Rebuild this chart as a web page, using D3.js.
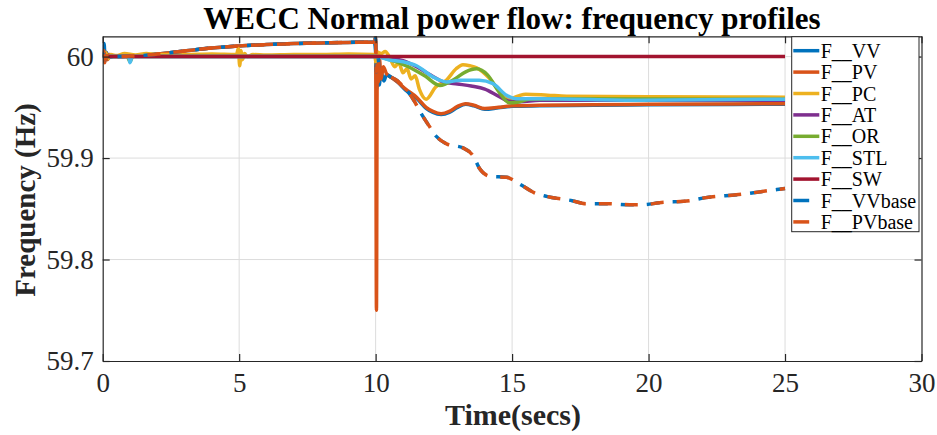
<!DOCTYPE html>
<html>
<head>
<meta charset="utf-8">
<script src="https://cdn.jsdelivr.net/npm/d3@7"></script>
<style>
  body { margin: 0; background: #fff; }
  text { font-family: "Liberation Serif", "Times New Roman", serif; }
</style>
</head>
<body>
<script>
// ---- data: [time (s), frequency (Hz)] ----
let xTicks = [0, 5, 10, 15, 20, 25, 30];
let yTicks = [59.7, 59.8, 59.9, 60];

let seriesNames = ["F__VV", "F__PV", "F__PC", "F__AT", "F__OR", "F__STL", "F__SW", "F__VVbase", "F__PVbase"];
let seriesColors = ["#0072BD", "#D95319", "#EDB120", "#7E2F8E", "#77AC30", "#4DBEEE", "#A2142F", "#0072BD", "#D95319"];

let fVV = [[0,60.0],[0.05,60.013],[0.09,59.998],[0.14,60.004],[0.2,59.999],[0.4,60.0],[1,60.0005],[1.5,60.0012],[2,60.0025],[3,60.0055],[4,60.0085],[5,60.0105],[6,60.0118],[7,60.0128],[8,60.0135],[9,60.014],[9.95,60.0143],[10.01,60.0],[10.04,59.968],[10.08,59.99],[10.13,59.972],[10.2,59.985],[10.3,59.976],[10.4,59.982],[10.6,59.979],[10.8,59.975],[11.1,59.967],[11.5,59.959],[11.85,59.949],[12.1,59.945],[12.4,59.943],[12.7,59.945],[13.0,59.950],[13.3,59.953],[13.6,59.9515],[14.0,59.948],[14.5,59.9495],[15.0,59.951],[16,59.9515],[18,59.952],[20,59.9525],[25,59.953]];
let fPV = [[0,60.0],[0.04,60.006],[0.08,59.994],[0.12,60.004],[0.18,59.997],[0.25,60.002],[0.4,60.0],[1,60.0005],[1.5,60.0012],[2,60.0025],[3,60.0055],[4,60.0085],[5,60.0105],[6,60.0118],[7,60.0128],[8,60.0135],[9,60.014],[9.95,60.0143],[10.0,60.02],[10.03,59.75],[10.06,60.005],[10.1,59.975],[10.14,59.998],[10.2,59.978],[10.28,59.99],[10.4,59.983],[10.6,59.979],[10.8,59.975],[11.1,59.968],[11.5,59.960],[11.85,59.950],[12.1,59.946],[12.4,59.9437],[12.7,59.946],[13.0,59.951],[13.3,59.9536],[13.6,59.952],[14.0,59.9488],[14.5,59.950],[15.0,59.9515],[16,59.952],[18,59.9525],[20,59.953],[25,59.9535]];
let fPC = [[0,60.0],[0.1,60.004],[0.2,59.998],[0.3,60.002],[0.5,60.001],[0.8,60.003],[1.2,60.0015],[1.6,60.003],[2,60.002],[3,60.002],[4,60.0025],[4.9,60.002],[4.97,60.008],[5.02,59.991],[5.07,60.006],[5.12,59.997],[5.2,60.003],[5.3,60.0],[5.5,60.002],[6,60.0015],[7,60.002],[8,60.002],[9,60.0025],[9.95,60.002],[10.05,59.99],[10.1,60.004],[10.2,60.003],[10.35,60.005],[10.5,60.0],[10.7,59.99],[10.85,59.994],[11.0,59.984],[11.15,59.988],[11.3,59.978],[11.45,59.981],[11.6,59.968],[11.85,59.958],[12.2,59.970],[12.6,59.977],[12.95,59.988],[13.2,59.992],[13.45,59.991],[13.7,59.989],[14.15,59.979],[14.55,59.966],[14.9,59.9585],[15.2,59.961],[15.5,59.963],[16.3,59.962],[17,59.961],[20,59.9605],[25,59.960]];
let fAT = [[0,60.0],[10,60.0],[10.5,59.999],[11,59.996],[11.5,59.99],[12,59.982],[12.5,59.975],[13,59.973],[13.5,59.971],[14,59.968],[14.5,59.961],[14.9,59.956],[15.3,59.9555],[16,59.957],[18,59.957],[25,59.957]];
let fOR = [[0,60.0],[0.9,60.0],[1.0,59.995],[1.1,60.0],[10,60.0],[10.5,59.997],[11.2,59.99],[11.8,59.981],[12.35,59.9716],[12.9,59.978],[13.3,59.985],[13.7,59.988],[14.1,59.982],[14.5,59.966],[14.9,59.9545],[15.2,59.955],[15.6,59.958],[16.5,59.9585],[25,59.958]];
let fSTL = [[0,60.0],[0.95,60.0],[1.0,59.994],[1.08,60.0],[10,60.0],[10.5,59.9967],[11.0,59.995],[11.5,59.991],[12.1,59.980],[12.6,59.975],[13.1,59.9766],[13.8,59.9766],[14.3,59.9733],[14.8,59.9618],[15.15,59.9585],[16,59.9585],[19.7,59.957],[25,59.958]];
let fSW = [[0,60.0],[25,60.0]];
let fBase = [[0,60.0],[0.05,60.004],[0.1,59.997],[0.2,60.001],[0.4,60.0],[1,60.0005],[1.5,60.0012],[2,60.0025],[3,60.0055],[4,60.0085],[5,60.0105],[6,60.0118],[7,60.0128],[8,60.0135],[9,60.014],[9.95,60.0143],[10.0,60.018],[10.03,59.985],[10.08,60.0],[10.15,59.985],[10.25,59.988],[10.4,59.983],[10.8,59.976],[11.1,59.968],[11.4,59.957],[11.6,59.947],[12.0,59.930],[12.2,59.922],[12.6,59.914],[13.2,59.910],[13.6,59.901],[13.8,59.890],[14.2,59.882],[14.8,59.881],[15.3,59.874],[15.8,59.866],[16.3,59.862],[17.2,59.858],[17.7,59.855],[18.5,59.855],[19.3,59.854],[19.8,59.854],[20.4,59.856],[21.5,59.858],[22.1,59.861],[23.3,59.864],[24.7,59.869],[25,59.870]];
let fVVbase = fBase;
let fPVbase = fBase;

let allSeries = [fVV, fPV, fPC, fAT, fOR, fSTL, fSW, fVVbase, fPVbase];

// ---- layout ----
let w = 937, h = 435;
let pLeft = 102.7, pRight = 921.5, pTop = 36.3, pBottom = 361;
let axisColor = "#262626";

let xScale = d3.scaleLinear().domain([0, 30]).range([pLeft, pRight]);
let yScale = d3.scaleLinear().domain([59.7, 60.02]).range([pBottom, pTop]);

let svg = d3.select("body").append("svg")
  .attr("width", w)
  .attr("height", h);

// grid
svg.append("g").selectAll("line")
  .data(xTicks.slice(1, -1))
  .enter().append("line")
  .attr("x1", (d) => xScale(d)).attr("x2", (d) => xScale(d))
  .attr("y1", pTop).attr("y2", pBottom)
  .attr("stroke", "#dcdcdc").attr("stroke-width", 1);
svg.append("g").selectAll("line")
  .data(yTicks.slice(1))
  .enter().append("line")
  .attr("x1", pLeft).attr("x2", pRight)
  .attr("y1", (d) => yScale(d)).attr("y2", (d) => yScale(d))
  .attr("stroke", "#dcdcdc").attr("stroke-width", 1);

// lines
svg.append("clipPath").attr("id", "clip")
  .append("rect")
  .attr("x", pLeft).attr("y", pTop)
  .attr("width", pRight - pLeft).attr("height", pBottom - pTop);

let line = d3.line()
  .x((d) => xScale(d[0]))
  .y((d) => yScale(d[1]))
  .curve(d3.curveMonotoneX);

let plot = svg.append("g").attr("clip-path", "url(#clip)");
allSeries.forEach((s, i) => {
  let p = plot.append("path")
    .datum(s)
    .attr("d", line)
    .attr("fill", "none")
    .attr("stroke", seriesColors[i])
    .attr("stroke-width", 3.5)
    .attr("stroke-linejoin", "round");
  if (i >= 7) {
    p.attr("stroke-dasharray", "13,13")
      .attr("stroke-dashoffset", i == 8 ? -4 : 0);
  }
});

// axes
let xFmt = d3.format("d");
let yFmt = (d) => d == 60 ? "60" : d3.format(".1f")(d);

let gx = svg.append("g")
  .attr("transform", "translate(0," + pBottom + ")")
  .call(d3.axisBottom(xScale).tickValues(xTicks).tickFormat(xFmt).tickSize(-7).tickSizeOuter(0).tickPadding(12));
let gy = svg.append("g")
  .attr("transform", "translate(" + pLeft + ",0)")
  .call(d3.axisLeft(yScale).tickValues(yTicks).tickFormat(yFmt).tickSize(-7).tickSizeOuter(0).tickPadding(9));
let gt = svg.append("g")
  .attr("transform", "translate(0," + pTop + ")")
  .call(d3.axisTop(xScale).tickValues(xTicks).tickFormat("").tickSize(-7).tickSizeOuter(0));
let gr = svg.append("g")
  .attr("transform", "translate(" + pRight + ",0)")
  .call(d3.axisRight(yScale).tickValues(yTicks).tickFormat("").tickSize(-7).tickSizeOuter(0));

[gx, gy, gt, gr].forEach((g) => {
  g.select(".domain").attr("stroke", axisColor).attr("stroke-width", 1.2);
  g.selectAll(".tick line").attr("stroke", axisColor).attr("stroke-width", 1.2);
  g.selectAll("text")
    .attr("fill", axisColor)
    .attr("font-family", "Liberation Serif")
    .attr("font-size", "27px");
});

// title and axis labels
svg.append("text")
  .text("WECC Normal power flow: frequency profiles")
  .attr("x", 512).attr("y", 28.5)
  .attr("text-anchor", "middle")
  .attr("font-size", "31px")
  .attr("font-weight", "bold")
  .attr("fill", "#000");

svg.append("text")
  .text("Time(secs)")
  .attr("x", 513).attr("y", 425)
  .attr("text-anchor", "middle")
  .attr("font-size", "30px")
  .attr("font-weight", "bold")
  .attr("fill", "#262626");

svg.append("text")
  .text("Frequency (Hz)")
  .attr("transform", "translate(35,200) rotate(-90)")
  .attr("text-anchor", "middle")
  .attr("font-size", "29px")
  .attr("font-weight", "bold")
  .attr("fill", "#262626");

// legend
let lx = 791.7, ly = 36.7, lw = 127.3, lh = 195;
let rowH = 21.4;
let legend = svg.append("g");
legend.append("rect")
  .attr("x", lx).attr("y", ly)
  .attr("width", lw).attr("height", lh)
  .attr("fill", "#fff")
  .attr("stroke", axisColor)
  .attr("stroke-width", 1);

let rows = legend.selectAll("g.row")
  .data(seriesNames)
  .enter().append("g")
  .attr("class", "row")
  .attr("transform", (d, i) => "translate(0," + (ly + 14 + i * rowH) + ")");

rows.append("line")
  .attr("x1", lx + 1.6)
  .attr("x2", (d, i) => i >= 7 ? lx + 17.5 : lx + 27.6)
  .attr("y1", 0).attr("y2", 0)
  .attr("stroke", (d, i) => seriesColors[i])
  .attr("stroke-width", 3.5);

rows.append("text")
  .text((d) => d)
  .attr("x", lx + 29)
  .attr("y", 7)
  .attr("font-size", "20px")
  .attr("fill", "#000");
</script>
</body>
</html>
